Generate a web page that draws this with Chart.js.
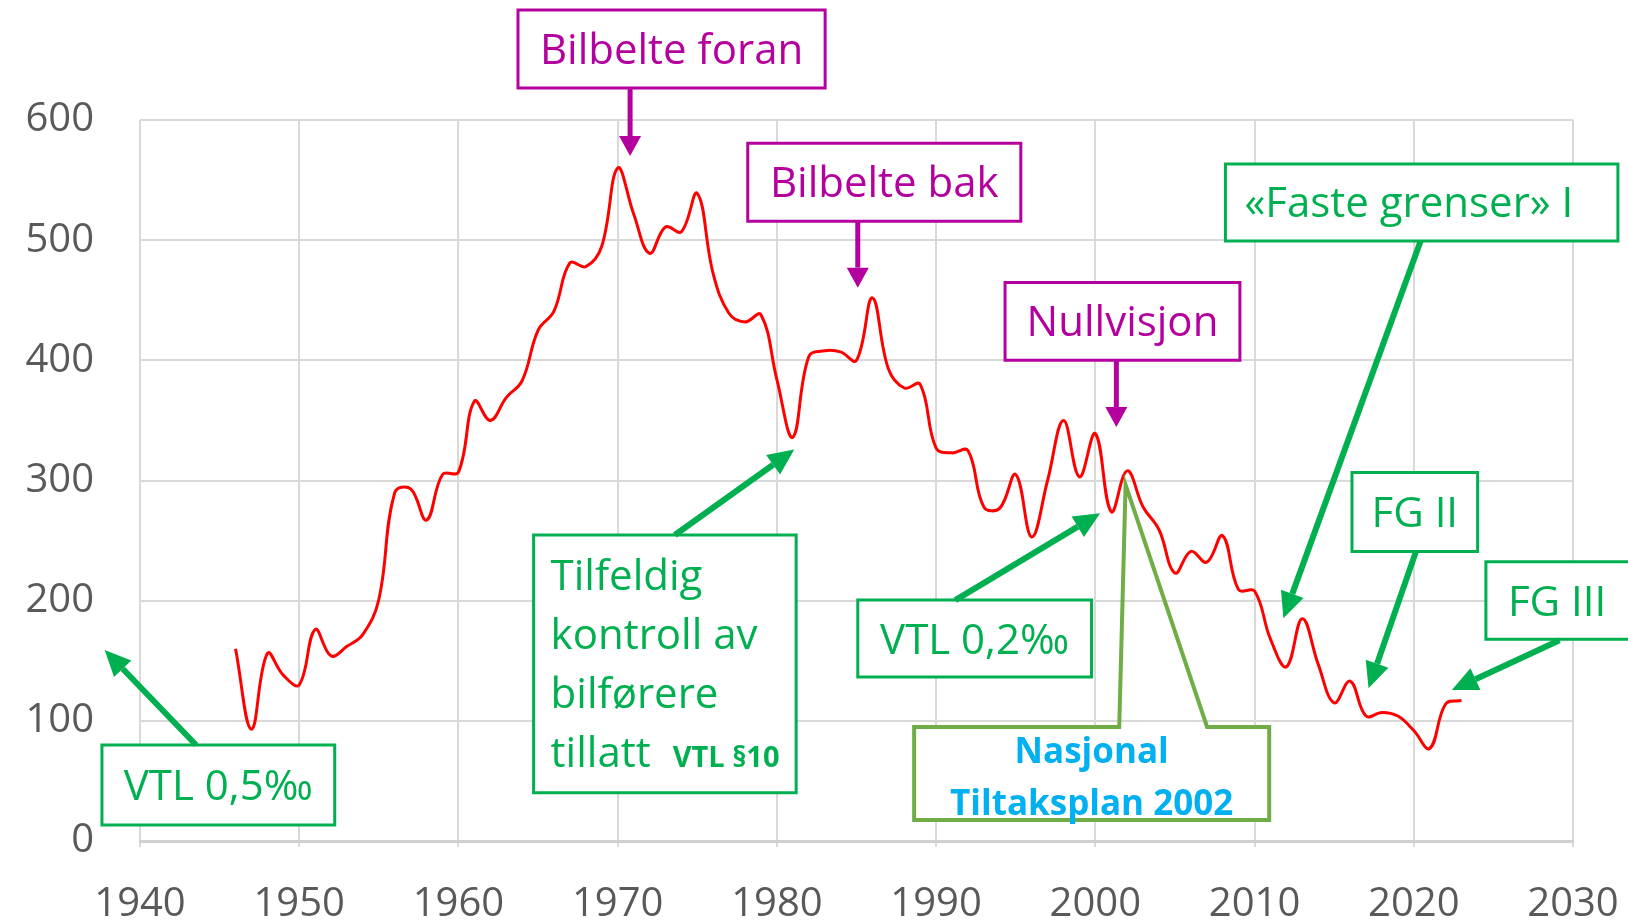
<!DOCTYPE html>
<html lang="no">
<head>
    <meta charset="UTF-8">
    <title>Drepte i vegtrafikken 1946-2023</title>
    <style>
        html, body {
            margin: 0;
            padding: 0;
            background: #ffffff;
        }
        #wrap {
            position: relative;
            width: 1628px;
            height: 921px;
        }
    </style>
</head>
<body>
    <div id="wrap"><canvas id="chart"></canvas></div>

    <script src="https://cdn.jsdelivr.net/npm/chart.js"></script>
    <script>
        // Data lest av figuren
        const years = [
            1946, 1947, 1948, 1949, 1950, 1951, 1952, 1953, 1954, 1955,
            1956, 1957, 1958, 1959, 1960, 1961, 1962, 1963, 1964, 1965,
            1966, 1967, 1968, 1969, 1970, 1971, 1972, 1973, 1974, 1975,
            1976, 1977, 1978, 1979, 1980, 1981, 1982, 1983, 1984, 1985,
            1986, 1987, 1988, 1989, 1990, 1991, 1992, 1993, 1994, 1995,
            1996, 1997, 1998, 1999, 2000, 2001, 2002, 2003, 2004, 2005,
            2006, 2007, 2008, 2009, 2010, 2011, 2012, 2013, 2014, 2015,
            2016, 2017, 2018, 2019, 2020, 2021, 2022, 2023
        ];
        const killed = [
            160, 93, 156, 138, 130, 176, 154, 162, 172, 201,
            290, 293, 267, 305, 307, 366, 350, 369, 383, 425,
            441, 481, 478, 495, 560, 522, 489, 511, 507, 539,
            472, 439, 432, 438, 384, 336, 403, 408, 407, 400,
            452, 393, 377, 380, 327, 323, 325, 278, 277, 305,
            253, 300, 350, 303, 339, 274, 308, 278, 259, 223,
            241, 232, 254, 209, 208, 168, 145, 185, 147, 115,
            133, 104, 107, 104, 92, 77, 114, 117
        ];
        const xTicks = [1940, 1950, 1960, 1970, 1980, 1990, 2000, 2010, 2020, 2030];
        const yTicks = [0, 100, 200, 300, 400, 500, 600];

        const MAGENTA = '#B4009E';
        const GREEN = '#00B050';
        const OLIVE = '#70AD47';
        const BLUE = '#00B0F0';
        const FONT = "'Open Sans', 'DejaVu Sans', sans-serif";

        // Merknader, plassert i akseenheter (år, antall)
        const notes = [
            { lines: ['Bilbelte foran'], box: [1963.74, 691.5, 1983.03, 626.6], color: MAGENTA, size: 42,
              arrow: [1970.78, 626.6, 1970.78, 570], head: [20, 22], lw: 5 },
            { lines: ['Bilbelte bak'], box: [1978.17, 580.6, 1995.32, 515.8], color: MAGENTA, size: 42,
              arrow: [1985.08, 515.8, 1985.08, 460.5], head: [20, 22], lw: 5 },
            { lines: ['Nullvisjon'], box: [1994.33, 464.8, 2009.08, 400.0], color: MAGENTA, size: 42,
              arrow: [2001.32, 400.0, 2001.32, 344.5], head: [20, 22], lw: 5 },
            { lines: ['«Faste grenser» I'], box: [2008.17, 563.4, 2032.82, 499.3], color: GREEN, size: 42,
              align: 'left', pad: 19, arrow: [2020.43, 499.3, 2011.81, 185.3], head: [26, 24], lw: 6 },
            { lines: ['FG II'], box: [2016.12, 306.6, 2024.01, 241.0], color: GREEN, size: 42,
              arrow: [2020.13, 240.6, 2017.16, 127.1], head: [26, 24], lw: 6 },
            { lines: ['FG III'], box: [2024.53, 232.3, 2034.4, 167.8], color: GREEN, size: 42,
              align: 'left', pad: 22, arrow: [2029.15, 167.0, 2022.39, 125.6], head: [26, 24], lw: 6 },
            { lines: ['VTL 0,5‰'], box: [1937.61, 79.9, 1952.23, 13.3], color: GREEN, size: 42,
              arrow: [1943.52, 79.9, 1937.78, 158.9], head: [26, 24], lw: 6 },
            { lines: ['Tilfeldig', 'kontroll av', 'bilførere', ['tillatt', 'VTL §10']],
              box: [1964.72, 254.6, 1981.21, 40.2], color: GREEN, size: 42, step: 59,
              align: 'left', pad: 17, arrow: [1973.59, 254.6, 1981.09, 325.7], head: [26, 24], lw: 6 },
            { lines: ['VTL 0,2‰'], box: [1985.08, 200.5, 1999.76, 136.5], color: GREEN, size: 42,
              arrow: [1991.21, 200.5, 2000.30, 272.7], head: [26, 24], lw: 6 },
            { lines: ['Nasjonal', 'Tiltaksplan 2002'], box: [1988.62, 94.9, 2010.92, 17.5], color: OLIVE,
              textColor: BLUE, bold: true, size: 35, step: 52, dy: 3, border: 4,
              pointer: [2001.50, 2001.90, 296.4, 2007.02] }
        ];

        function drawArrow(ctx, xa, ya, xb, yb, color, lw, headLen, headW) {
            const ang = Math.atan2(yb - ya, xb - xa);
            const bx = xb - headLen * Math.cos(ang);
            const by = yb - headLen * Math.sin(ang);
            ctx.strokeStyle = color;
            ctx.lineWidth = lw;
            ctx.beginPath();
            ctx.moveTo(xa, ya);
            ctx.lineTo(bx, by);
            ctx.stroke();
            ctx.fillStyle = color;
            ctx.beginPath();
            ctx.moveTo(xb, yb);
            ctx.lineTo(bx + headW / 2 * Math.sin(ang), by - headW / 2 * Math.cos(ang));
            ctx.lineTo(bx - headW / 2 * Math.sin(ang), by + headW / 2 * Math.cos(ang));
            ctx.closePath();
            ctx.fill();
        }

        const notesPlugin = {
            id: 'notes',
            afterDatasetsDraw(chart) {
                const ctx = chart.ctx;
                const xs = chart.scales.x, ys = chart.scales.y;
                ctx.save();
                notes.forEach(n => {
                    const left = xs.getPixelForValue(n.box[0]);
                    const top = ys.getPixelForValue(n.box[1]);
                    const right = xs.getPixelForValue(n.box[2]);
                    const bottom = ys.getPixelForValue(n.box[3]);

                    ctx.fillStyle = '#ffffff';
                    ctx.fillRect(left, top, right - left, bottom - top);
                    ctx.strokeStyle = n.color;
                    ctx.lineWidth = n.border || 3;
                    ctx.lineJoin = 'miter';
                    ctx.beginPath();
                    if (n.pointer) {
                        const p = n.pointer;
                        ctx.moveTo(left, bottom);
                        ctx.lineTo(left, top);
                        ctx.lineTo(xs.getPixelForValue(p[0]), top);
                        ctx.lineTo(xs.getPixelForValue(p[1]), ys.getPixelForValue(p[2]));
                        ctx.lineTo(xs.getPixelForValue(p[3]), top);
                        ctx.lineTo(right, top);
                        ctx.lineTo(right, bottom);
                        ctx.closePath();
                    } else {
                        ctx.rect(left, top, right - left, bottom - top);
                    }
                    ctx.stroke();

                    if (n.arrow) {
                        const a = n.arrow;
                        drawArrow(ctx,
                            xs.getPixelForValue(a[0]), ys.getPixelForValue(a[1]),
                            xs.getPixelForValue(a[2]), ys.getPixelForValue(a[3]),
                            n.color, n.lw, n.head[0], n.head[1]);
                    }

                    const size = n.size;
                    const step = n.step || size * 1.4;
                    const cy = (top + bottom) / 2 + (n.dy || 0);
                    const first = cy - step * (n.lines.length - 1) / 2;
                    ctx.fillStyle = n.textColor || n.color;
                    ctx.textBaseline = 'alphabetic';
                    n.lines.forEach((ln, i) => {
                        const base = first + i * step + size * 0.357;
                        if (Array.isArray(ln)) {
                            // vanlig tekst etterfulgt av liten fet tekst
                            let tx = left + n.pad;
                            ctx.textAlign = 'left';
                            ctx.font = size + 'px ' + FONT;
                            ctx.fillText(ln[0], tx, base);
                            tx += ctx.measureText(ln[0]).width + 22;
                            ctx.font = 'bold 29px ' + FONT;
                            ctx.fillText(ln[1], tx, base);
                            return;
                        }
                        ctx.font = (n.bold ? 'bold ' : '') + size + 'px ' + FONT;
                        if (n.align === 'left') {
                            ctx.textAlign = 'left';
                            ctx.fillText(ln, left + n.pad, base);
                        } else {
                            ctx.textAlign = 'center';
                            ctx.fillText(ln, (left + right) / 2, base);
                        }
                    });
                });
                ctx.restore();
            }
        };

        function makeChart() {
            const ctx = document.getElementById('chart').getContext('2d');
            new Chart(ctx, {
                type: 'line',
                data: {
                    datasets: [{
                        label: 'Drepte',
                        data: years.map((yr, i) => ({ x: yr, y: killed[i] })),
                        borderColor: '#FF0000',
                        borderWidth: 3,
                        pointRadius: 0,
                        tension: 0.4,
                        fill: false
                    }]
                },
                options: {
                    responsive: true,
                    maintainAspectRatio: false,
                    animation: false,
                    devicePixelRatio: 1,
                    layout: { padding: { top: 120, right: 55, left: 0, bottom: 0 } },
                    plugins: {
                        legend: { display: false },
                        tooltip: { enabled: false },
                        title: { display: false }
                    },
                    scales: {
                        x: {
                            type: 'linear',
                            min: 1940,
                            max: 2030,
                            afterBuildTicks: s => { s.ticks = xTicks.map(v => ({ value: v })); },
                            afterFit: s => { s.height = 80; },
                            grid: { color: '#d9d9d9', lineWidth: 2, tickLength: 6, drawTicks: true },
                            border: { color: '#d0d0d0', width: 3 },
                            ticks: {
                                font: { family: FONT, size: 40, lineHeight: 2.5 },
                                color: '#595959',
                                padding: 8,
                                maxRotation: 0,
                                autoSkip: false,
                                callback: v => String(v)
                            }
                        },
                        y: {
                            min: 0,
                            max: 600,
                            afterBuildTicks: s => { s.ticks = yTicks.map(v => ({ value: v })); },
                            afterFit: s => { s.width = 140; },
                            grid: { color: '#d9d9d9', lineWidth: 2, drawTicks: false },
                            border: { display: false },
                            ticks: {
                                font: { family: FONT, size: 40 },
                                color: '#595959',
                                padding: 46,
                                callback: v => String(v)
                            }
                        }
                    }
                },
                plugins: [notesPlugin]
            });
        }

        document.addEventListener('DOMContentLoaded', makeChart);
    </script>
</body>
</html>
